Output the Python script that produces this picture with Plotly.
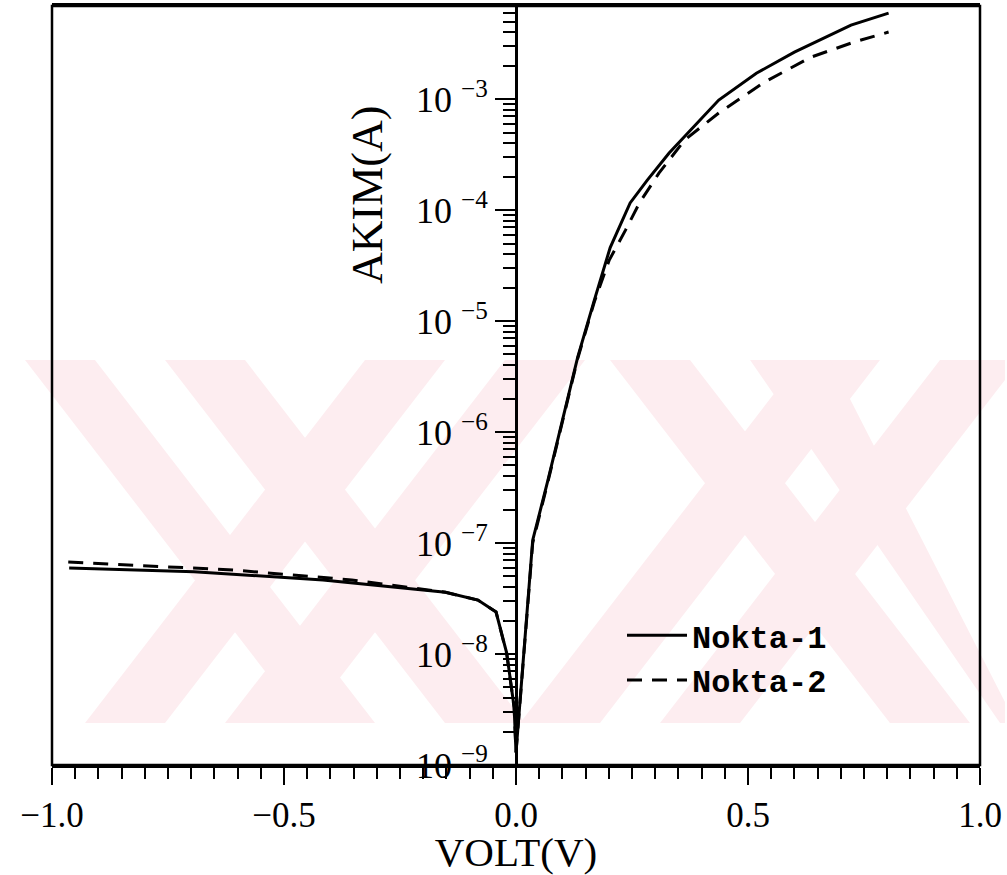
import plotly.graph_objects as go

# ---- data ----
volt_1 = [-0.963, -0.694, -0.416, -0.278, -0.152, -0.082, -0.043, -0.020, -0.004, 0.0,
          0.036, 0.069, 0.098, 0.133, 0.169, 0.203, 0.246, 0.283, 0.330, 0.437,
          0.518, 0.600, 0.722, 0.803]
akim_1 = [5.96e-8, 5.5e-8, 4.65e-8, 4.1e-8, 3.6e-8, 3.06e-8, 2.39e-8, 1.02e-8, 3.3e-9, 1.3e-9,
          1.06e-7, 3.7e-7, 1.2e-6, 4.74e-6, 1.55e-5, 4.6e-5, 1.16e-4, 1.86e-4, 3.27e-4, 9.8e-4,
          1.71e-3, 2.65e-3, 4.64e-3, 5.96e-3]

volt_2 = [-0.965, -0.607, -0.354, -0.152, -0.082, -0.043, -0.020, -0.004, 0.0,
          0.036, 0.069, 0.098, 0.133, 0.169, 0.201, 0.236, 0.266, 0.308, 0.364,
          0.437, 0.535, 0.636, 0.728, 0.803]
akim_2 = [6.75e-8, 5.7e-8, 4.65e-8, 3.6e-8, 3.06e-8, 2.4e-8, 1.0e-8, 3.3e-9, 1.3e-9,
          1.0e-7, 3.6e-7, 1.15e-6, 4.6e-6, 1.5e-5, 3.55e-5, 6.6e-5, 1.16e-4, 2.15e-4, 4.3e-4,
          7.5e-4, 1.42e-3, 2.39e-3, 3.26e-3, 4.02e-3]

series_names = ["Nokta-1", "Nokta-2"]

x_ticks = [-1.0, -0.5, 0.0, 0.5, 1.0]
x_tick_labels = ["\u22121.0", "\u22120.5", "0.0", "0.5", "1.0"]
y_ticks = [1e-9, 1e-8, 1e-7, 1e-6, 1e-5, 1e-4, 1e-3]
y_tick_labels = ["10 <sup>\u22129</sup>", "10 <sup>\u22128</sup>", "10 <sup>\u22127</sup>",
                 "10 <sup>\u22126</sup>", "10 <sup>\u22125</sup>", "10 <sup>\u22124</sup>",
                 "10 <sup>\u22123</sup>"]
y_minor_ticks = [m * 10.0 ** e for e in range(-9, -2) for m in range(2, 10)]

# ---- layout geometry ----
W, H = 1007, 875
ML, MR, MT, MB = 52, 27, 6, 110
PW, PH = W - ML - MR, H - MT - MB

def px(x):
    return (x - ML) / PW

def py(y):
    return (H - MB - y) / PH

SERIF = "Liberation Serif"
MONO = "Liberation Mono"

fig = go.Figure()
fig.add_trace(go.Scatter(x=volt_1, y=akim_1, mode="lines", name=series_names[0],
                         line=dict(color="black", width=3)))
fig.add_trace(go.Scatter(x=volt_2, y=akim_2, mode="lines", name=series_names[1],
                         line=dict(color="black", width=3, dash="15px,10px")))

# watermark (decorative, pixel polygons)
PINK = "#fdedf0"
wm_polys = [
    # left X
    [(25, 360), (95, 360), (375, 723), (305, 723)],
    [(165, 360), (245, 360), (525, 723), (445, 723)],
    [(85, 723), (165, 723), (445, 360), (365, 360)],
    [(225, 723), (305, 723), (585, 360), (505, 360)],
    # right X
    [(520, 723), (600, 723), (880, 360), (800, 360)],
    [(660, 723), (740, 723), (1005, 380), (1005, 360), (940, 360)],
    [(610, 360), (690, 360), (970, 723), (890, 723)],
    [(750, 360), (830, 360), (1005, 702), (1005, 723), (1000, 723)],
]
shapes = []
for poly in wm_polys:
    path = "M " + " L ".join(f"{px(a):.4f},{py(b):.4f}" for a, b in poly) + " Z"
    shapes.append(dict(type="path", xref="paper", yref="paper", path=path,
                       fillcolor=PINK, line=dict(width=0), layer="below"))
# frame
shapes.append(dict(type="rect", xref="paper", yref="paper", x0=0, x1=1, y0=0, y1=1,
                   line=dict(color="black", width=2.5), layer="above"))

fig.update_layout(
    template="none",
    width=W, height=H,
    margin=dict(l=ML, r=MR, t=MT, b=MB, autoexpand=False),
    paper_bgcolor="white",
    plot_bgcolor="rgba(0,0,0,0)",
    font=dict(family=SERIF, color="black"),
    shapes=shapes,
    xaxis=dict(
        range=[-1, 1], domain=[0, 1], automargin=False,
        tickmode="array", tickvals=x_ticks, ticktext=x_tick_labels,
        ticks="outside", ticklen=17, tickwidth=2, tickcolor="black",
        minor=dict(tickmode="linear", tick0=0, dtick=0.05, ticks="outside",
                   ticklen=11, tickwidth=2, tickcolor="black", showgrid=False),
        showline=True, linewidth=3, linecolor="black", mirror=True,
        showgrid=False, zeroline=False,
        tickfont=dict(family=SERIF, size=35, color="black"),
        title=dict(text="VOLT(V)", standoff=2,
                   font=dict(family=SERIF, size=41, color="black")),
    ),
    yaxis=dict(
        type="log", range=[-9, -2.161], automargin=False,
        anchor="free", position=0.5, side="left",
        tickmode="array", tickvals=y_ticks, ticktext=y_tick_labels,
        ticks="outside", ticklen=20, tickwidth=2, tickcolor="black",
        minor=dict(tickmode="array", tickvals=y_minor_ticks, ticks="outside",
                   ticklen=12, tickwidth=2, tickcolor="black", showgrid=False),
        showline=True, linewidth=3, linecolor="black",
        showgrid=False, zeroline=False,
        tickfont=dict(family=SERIF, size=36, color="black"),
    ),
    showlegend=True,
    legend=dict(x=px(622), y=py(608), xanchor="left", yanchor="top",
                bgcolor="rgba(0,0,0,0)", borderwidth=0,
                font=dict(family=MONO, size=32, color="black", weight="bold"),
                itemwidth=60),
    annotations=[
        dict(text="AKIM(A)", x=px(367), y=py(195), xref="paper", yref="paper",
             textangle=-90, showarrow=False, xanchor="center", yanchor="middle",
             font=dict(family=SERIF, size=44, color="black")),
    ],
)

fig.write_html("out.html",
               config={"displayModeBar": False},
               post_script="document.body.style.margin='0px';document.body.style.overflow='hidden';")
